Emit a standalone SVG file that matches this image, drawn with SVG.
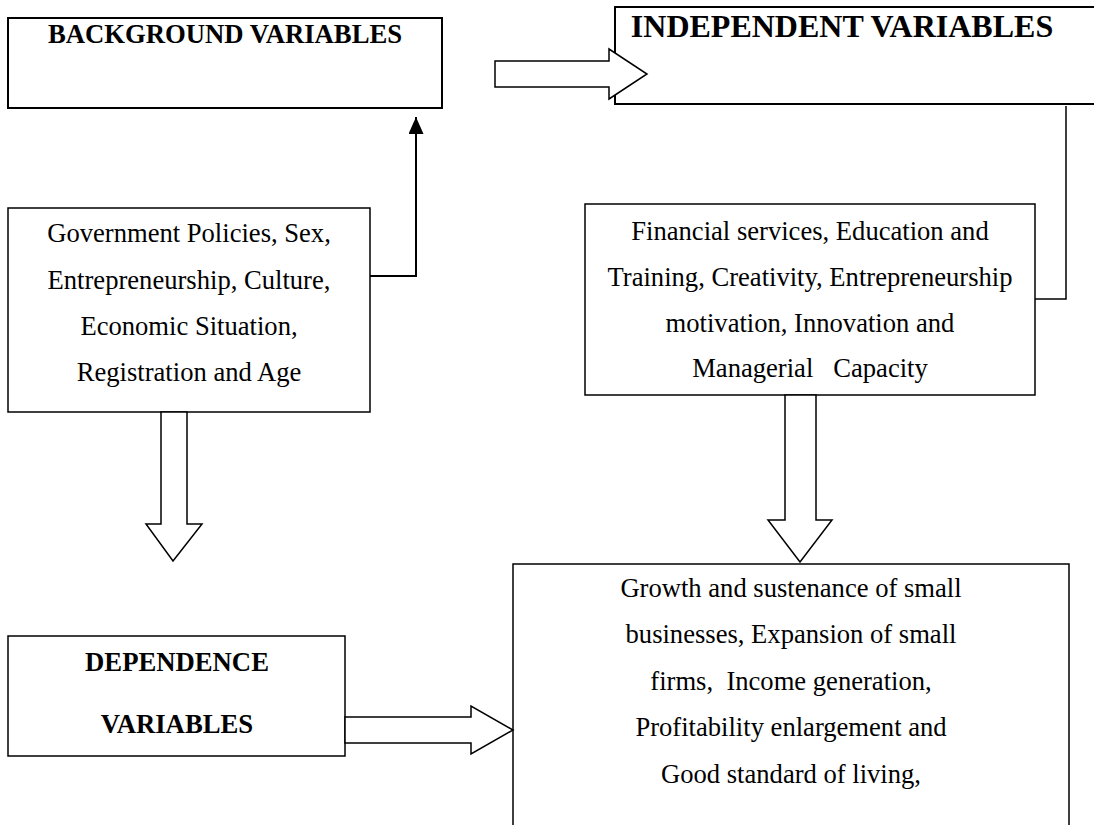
<svg xmlns="http://www.w3.org/2000/svg" width="1094" height="825" viewBox="0 0 1094 825">
<style>
  .box { fill: #fff; stroke: #000; stroke-width: 1.5; }
  .boxb { fill: #fff; stroke: #000; stroke-width: 2; }
  .open { fill: none; stroke: #000; stroke-width: 2; }
  .t { font-family: "Liberation Serif", "Times New Roman", serif; font-size: 26.6px; fill: #000; text-anchor: middle; white-space: pre; }
  .h { font-family: "Liberation Serif", "Times New Roman", serif; font-size: 26.7px; font-weight: bold; fill: #000; text-anchor: middle; }
  .h2 { font-size: 32px; }
  .hollow { fill: #fff; stroke: #000; stroke-width: 1.5; stroke-linejoin: miter; }
  .line { fill: none; stroke: #000; stroke-width: 2; }
  .thin { fill: none; stroke: #000; stroke-width: 1.5; }
</style>
<defs>
  <marker id="ah" markerWidth="17" markerHeight="15" refX="17" refY="7.5" orient="auto" markerUnits="userSpaceOnUse" viewBox="0 0 17 15">
    <path d="M0,0 L17,7.5 L0,15 Z" fill="#000"/>
  </marker>
</defs>
<rect width="1094" height="825" fill="#fff"/>

<g id="background">
  <rect class="boxb" x="8" y="18" width="434" height="90"/>
  <text class="h" x="225" y="43">BACKGROUND VARIABLES</text>
</g>

<g id="independent">
  <path class="open" d="M1100,7 H615 V104 H1100"/>
  <text class="h h2" x="842" y="37">INDEPENDENT VARIABLES</text>
</g>

<g id="factors">
  <rect class="box" x="8" y="208" width="362" height="204"/>
  <text class="t" x="189" y="242">Government Policies, Sex,</text>
  <text class="t" x="189" y="289">Entrepreneurship, Culture,</text>
  <text class="t" x="189" y="335">Economic Situation,</text>
  <text class="t" x="189" y="381">Registration and Age</text>
</g>

<g id="independent-items">
  <rect class="box" x="585" y="204" width="450" height="191"/>
  <text class="t" x="810" y="240">Financial services, Education and</text>
  <text class="t" x="810" y="286">Training, Creativity, Entrepreneurship</text>
  <text class="t" x="810" y="332">motivation, Innovation and</text>
  <text class="t" x="810" y="377" xml:space="preserve">Managerial   Capacity</text>
</g>

<g id="dependence">
  <rect class="box" x="8" y="636" width="337" height="120"/>
  <text class="h" x="177" y="671">DEPENDENCE</text>
  <text class="h" x="177" y="733">VARIABLES</text>
</g>

<g id="outcomes">
  <path class="box" d="M513,830 V564 H1069 V830"/>
  <text class="t" x="791" y="597">Growth and sustenance of small</text>
  <text class="t" x="791" y="643">businesses, Expansion of small</text>
  <text class="t" x="791" y="690" xml:space="preserve">firms,  Income generation,</text>
  <text class="t" x="791" y="736">Profitability enlargement and</text>
  <text class="t" x="791" y="783">Good standard of living,</text>
</g>

<g id="connectors">
  <polygon class="hollow" points="495,61 609,61 609,49 647,74 609,99 609,87 495,87"/>
  <polyline class="line" points="370,276 416,276 416,117" marker-end="url(#ah)"/>
  <polyline class="thin" points="1066,106 1066,299 1035,299"/>
  <polygon class="hollow" points="161,412 161,524 146,524 173,561 202,524 187,524 187,412"/>
  <polygon class="hollow" points="785,395 785,520 768,520 800,562 832,520 816,520 816,395"/>
  <polygon class="hollow" points="345,717 471,717 471,706 513,730 471,754 471,743 345,743"/>
</g>
</svg>
